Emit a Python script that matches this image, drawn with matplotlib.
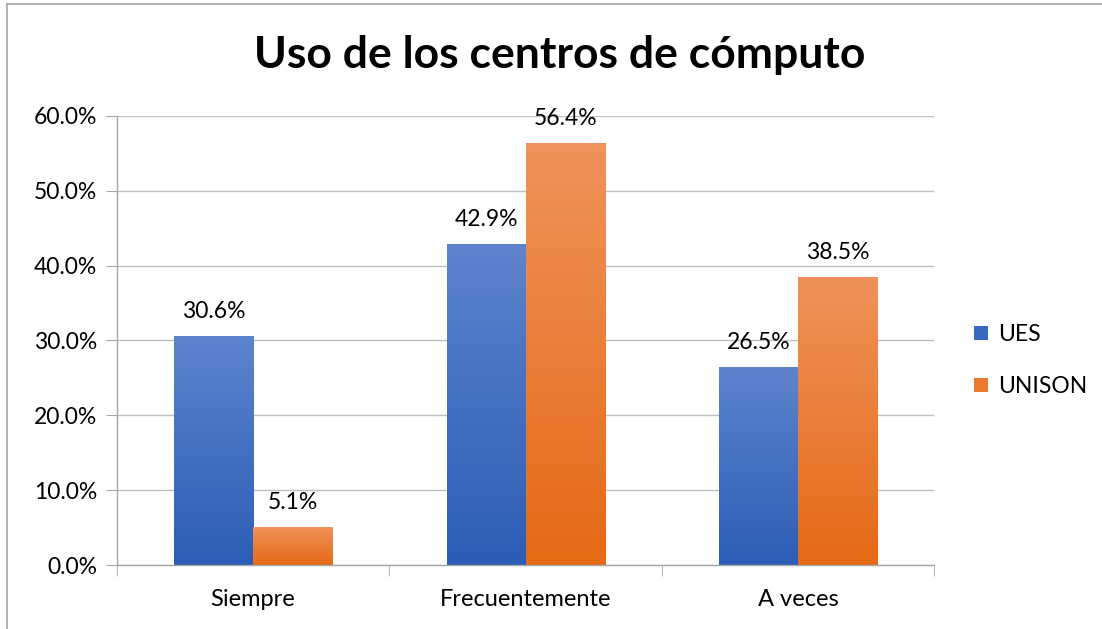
import numpy as np
import matplotlib.pyplot as plt
from matplotlib.colors import LinearSegmentedColormap
from matplotlib.lines import Line2D
from matplotlib.patches import Patch
from matplotlib.ticker import PercentFormatter

categories = ["Siempre", "Frecuentemente", "A veces"]
ues = [30.6, 42.9, 26.5]
unison = [5.1, 56.4, 38.5]
series_names = ["UES", "UNISON"]

# top / bottom colours of the gradient fill
BLUE = ("#5d84cd", "#2c5db6")
ORANGE = ("#f1925c", "#e46a15")
GRID = "#bfbfbf"
AXIS = "#a6a6a6"
FS = 16.5

plt.rcParams["font.family"] = ["Lato", "DejaVu Sans"]

fig = plt.figure(figsize=(11.02, 6.29), dpi=100)
ax = fig.add_axes([0.106, 0.1017, 0.742, 0.714])

x = np.arange(len(categories))
width = 0.29


def gradient_bars(xpos, values, cols, label):
    bars = ax.bar(xpos, values, width, color=cols[1], label=label, zorder=2)
    cmap = LinearSegmentedColormap.from_list("g", [cols[1], cols[0]])
    grad = np.linspace(0, 1, 256).reshape(-1, 1)
    for b in bars:
        x0, y0 = b.get_x(), b.get_y()
        im = ax.imshow(grad, cmap=cmap, origin="lower", aspect="auto",
                       extent=(x0, x0 + b.get_width(), y0, y0 + b.get_height()),
                       zorder=2.5)
        im.set_clip_path(b)
    for xi, v in zip(xpos, values):
        ax.annotate(f"{v:.1f}%", (xi, v), xytext=(0, 10), textcoords="offset points",
                    ha="center", va="bottom", fontsize=FS, color="#000000")
    return bars


gradient_bars(x - width / 2, ues, BLUE, series_names[0])
gradient_bars(x + width / 2, unison, ORANGE, series_names[1])

ax.set_xlim(-0.5, len(categories) - 0.5)
ax.set_ylim(0, 60)
ax.set_yticks(np.arange(0, 61, 10))
ax.yaxis.set_major_formatter(PercentFormatter(decimals=1))
ax.set_xticks(x)
ax.set_xticklabels(categories)
ax.set_xticks(np.arange(-0.5, len(categories), 1), minor=True)
ax.tick_params(axis="x", which="major", length=0, pad=17, labelsize=FS + 0.5)
ax.tick_params(axis="x", which="minor", length=8, color=AXIS, direction="out")
ax.tick_params(axis="y", length=8, color=AXIS, pad=6, labelsize=FS)

ax.grid(axis="y", color=GRID, linewidth=1.0, zorder=0)
ax.set_axisbelow(True)
for s in ["top", "right"]:
    ax.spines[s].set_visible(False)
for s in ["left", "bottom"]:
    ax.spines[s].set_color(AXIS)
    ax.spines[s].set_linewidth(1.0)

fig.text(0.508, 1 - 55 / 629, "Uso de los centros de cómputo", ha="center", va="center",
         fontsize=32, fontweight="bold")

handles = [Patch(facecolor="#3a68c0", label=series_names[0]),
           Patch(facecolor="#ec7a2c", label=series_names[1])]
fig.legend(handles=handles, loc="center left", bbox_to_anchor=(0.865, 0.427),
           frameon=False, fontsize=FS, handlelength=0.6, handleheight=0.6,
           handletextpad=0.45, labelspacing=1.35)

# chart border (only the left and top edges are inside the picture)
fig.add_artist(Line2D([7 / 1102, 7 / 1102], [0, 1 - 4 / 629], transform=fig.transFigure,
                      color="#a6a6a6", linewidth=1.2))
fig.add_artist(Line2D([7 / 1102, 1], [1 - 4 / 629, 1 - 4 / 629], transform=fig.transFigure,
                      color="#a6a6a6", linewidth=1.2))

fig.savefig("out.png", dpi=100)
